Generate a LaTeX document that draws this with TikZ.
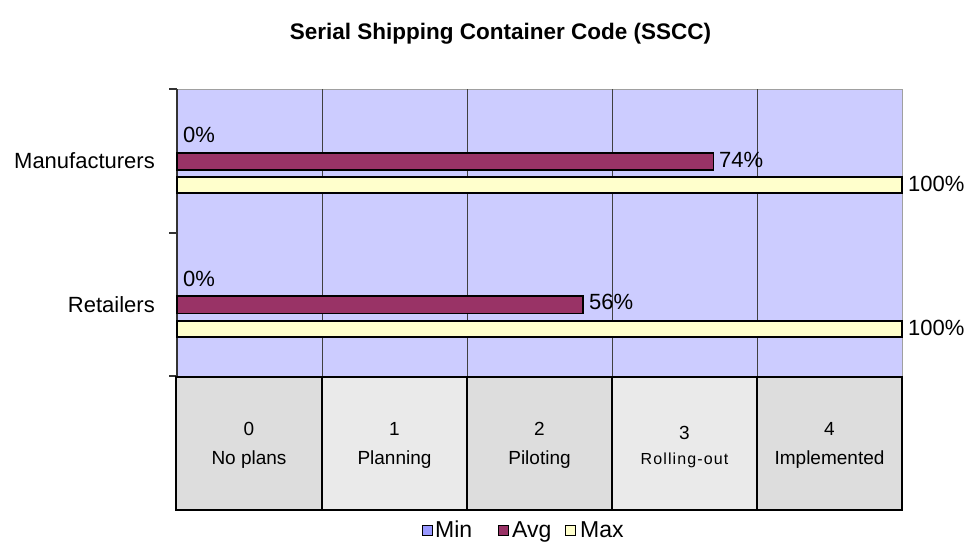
\documentclass[tikz,border=0pt]{standalone}
\usepackage{fontspec}
\setmainfont{Liberation Sans}
\definecolor{plotbg}{HTML}{CCCCFF}
\definecolor{avgcol}{HTML}{993366}
\definecolor{maxcol}{HTML}{FFFFCC}
\definecolor{mincol}{HTML}{9999FF}
\definecolor{celldark}{HTML}{DDDDDD}
\definecolor{celllight}{HTML}{EAEAEA}
\definecolor{framegray}{HTML}{A0A0A0}
\tikzset{
  gridline/.style={draw=black!75, line width=0.9pt},
  axisline/.style={draw=black!80, line width=1.2pt},
  avgbar/.style={fill=avgcol, draw=black, line width=1.6pt},
  maxbar/.style={fill=maxcol, draw=black, line width=1.6pt},
  cellbox/.style={draw=black, line width=2pt},
  lbl/.style={font=\fontsize{22}{26}\selectfont, inner sep=0pt},
  pct/.style={lbl, anchor=west},
  celltxt/.style={font=\fontsize{19}{22}\selectfont, inner sep=0pt, anchor=base},
  legbox/.style={draw=black, line width=1pt, minimum size=10pt, inner sep=0pt},
  legtxt/.style={font=\fontsize{23}{26}\selectfont, inner sep=0pt, anchor=base west}
}
\begin{document}
\begin{tikzpicture}[x=1pt,y=-1pt]
\useasboundingbox (0,0) rectangle (971,546);
\fill[white] (0,0) rectangle (971,546);

% title
\node[font=\bfseries\fontsize{22.5}{26}\selectfont, inner sep=0pt] (title) at (500.5,34) {Serial Shipping Container Code (SSCC)};

% plot area and frame
\fill[plotbg] (177,89) rectangle (902,376);
\draw[framegray, line width=1pt] (177,89) -- (902,89) -- (902,376);
\foreach \gx in {322,467,612,757}
  \draw[gridline] (\gx,89) -- (\gx,376);
\draw[axisline] (177,89) -- (177,376);
\foreach \ty in {89,233,376}
  \draw[axisline] (169,\ty) -- (177,\ty);

% category labels
\node[lbl, anchor=east] (manuf) at (155,161) {Manufacturers};
\node[lbl, anchor=east] (retail) at (155,305) {Retailers};

% bars: Manufacturers
\draw[avgbar] (177,153) rectangle (713.5,170);
\draw[maxbar] (177,177) rectangle (902,193);
\node[pct] (mmin) at (183,135) {0\%};
\node[pct] (mavg) at (719,160) {74\%};
\node[pct] (mmax) at (908,184) {100\%};

% bars: Retailers
\draw[avgbar] (177,296) rectangle (583,313.5);
\draw[maxbar] (177,321) rectangle (902,337);
\node[pct] (rmin) at (183,279) {0\%};
\node[pct] (ravg) at (589,302) {56\%};
\node[pct] (rmax) at (908,328) {100\%};

% stage table under the plot
\fill[celldark]  (176,377) rectangle (322,510);
\fill[celllight] (322,377) rectangle (467,510);
\fill[celldark]  (467,377) rectangle (612,510);
\fill[celllight] (612,377) rectangle (757,510);
\fill[celldark]  (757,377) rectangle (902,510);
\draw[cellbox] (176,377) rectangle (902,510);
\foreach \cx in {322,467,612,757}
  \draw[cellbox] (\cx,377) -- (\cx,510);

\node[celltxt] (n0) at (249,435) {0};
\node[celltxt] (t0) at (249,464) {No plans};
\node[celltxt] (n1) at (394.5,435) {1};
\node[celltxt] (t1) at (394.5,464) {Planning};
\node[celltxt] (n2) at (539.5,435) {2};
\node[celltxt] (t2) at (539.5,464) {Piloting};
\node[celltxt] (n3) at (684.5,439) {3};
\node[celltxt, font={\fontspec{Liberation Sans}[LetterSpace=7]\fontsize{16}{20}\selectfont}] (t3) at (684.5,464) {Rolling-out};
\node[celltxt] (n4) at (829.5,435) {4};
\node[celltxt] (t4) at (829.5,464) {Implemented};

% legend
\node[legbox, fill=mincol] (kmin) at (427,530.5) {};
\node[legtxt] (lmin) at (435,537) {Min};
\node[legbox, fill=avgcol] (kavg) at (503.5,530.5) {};
\node[legtxt] (lavg) at (512,537) {Avg};
\node[legbox, fill=maxcol] (kmax) at (570.5,530.5) {};
\node[legtxt] (lmax) at (580,537) {Max};
\end{tikzpicture}
\end{document}
